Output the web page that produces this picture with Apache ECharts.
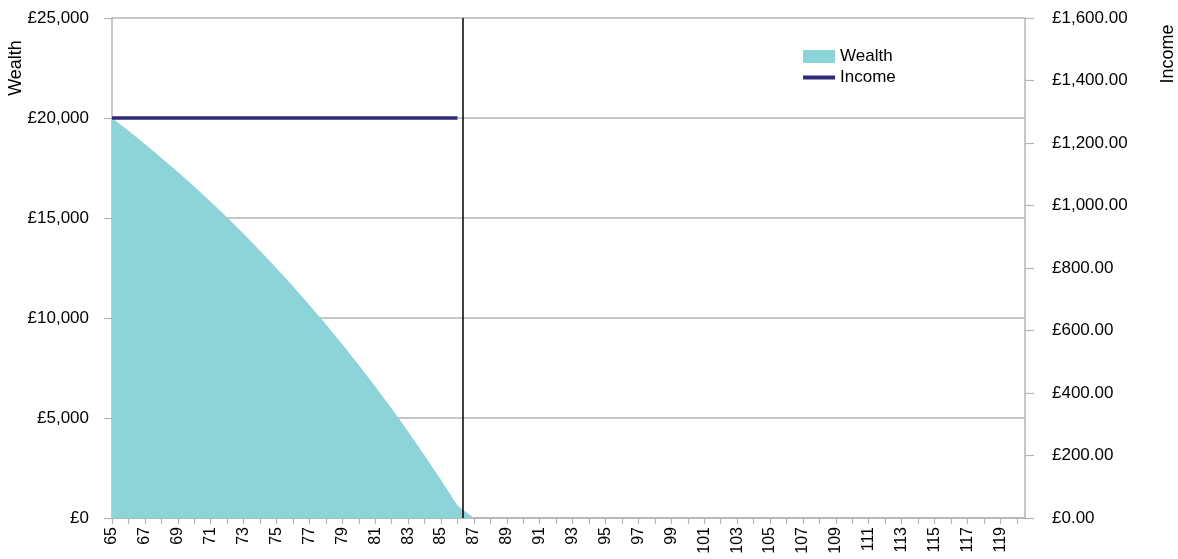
<!DOCTYPE html>
<html>
<head>
<meta charset="utf-8">
<script src="https://cdn.jsdelivr.net/npm/echarts@6/dist/echarts.min.js"></script>
<style>
html,body{margin:0;padding:0;background:#fff;}
#c{width:1178px;height:559px;}
</style>
</head>
<body>
<div id="c"></div>
<script>
// Ages (x categories, 65..120)
var ages = [];
for (var a = 65; a <= 120; a++) ages.push(a);

// Wealth (£), by age 65..120
var wealth = [20000, 19360, 18700, 18010, 17300, 16570, 15810, 15020, 14210, 13360,
  12490, 11590, 10650, 9690, 8690, 7650, 6580, 5470, 4320, 3130,
  1900, 630, 0, 0, 0, 0, 0, 0, 0, 0,
  0, 0, 0, 0, 0, 0, 0, 0, 0, 0,
  0, 0, 0, 0, 0, 0, 0, 0, 0, 0,
  0, 0, 0, 0, 0, 0];

// Income (£) by age 65..86
var incomeAges = [65,66,67,68,69,70,71,72,73,74,75,76,77,78,79,80,81,82,83,84,85,86];
var income = [1280,1280,1280,1280,1280,1280,1280,1280,1280,1280,1280,1280,1280,1280,1280,1280,1280,1280,1280,1280,1280,1280];

// Marker line age
var markerAge = [86.3];

var wealthTicks = [0, 5000, 10000, 15000, 20000, 25000];
var incomeTicks = [0, 200, 400, 600, 800, 1000, 1200, 1400, 1600];

var FONT = 'Liberation Sans, Arial, sans-serif';
var TXT = '#000';
var GRID = '#b4b4b4';

var wealthData = ages.map(function (a, i) { return [a, wealth[i]]; });
var incomeData = incomeAges.map(function (a, i) { return [a, income[i]]; });

var chart = echarts.init(document.getElementById('c'));
chart.setOption({
  animation: false,
  backgroundColor: '#fff',
  textStyle: { fontFamily: FONT },
  grid: { left: 112, right: 153, top: 18, bottom: 41, containLabel: false },
  legend: [
    { left: 803, top: 48, padding: 0, itemWidth: 32, itemHeight: 13, itemGap: 4,
      textStyle: { fontSize: 17, color: TXT, fontFamily: FONT },
      data: [{ name: 'Wealth', icon: 'rect' }] },
    { left: 803, top: 69, padding: 0, itemWidth: 32, itemHeight: 4, itemGap: 4,
      textStyle: { fontSize: 17, color: TXT, fontFamily: FONT },
      data: [{ name: 'Income', icon: 'rect' }] }
  ],
  graphic: [
    { type: 'text', x: 16, y: 68, rotation: Math.PI / 2,
      style: { text: 'Wealth', fontSize: 18, fontFamily: FONT, fill: TXT, textAlign: 'center', textVerticalAlign: 'middle' } },
    { type: 'text', x: 1168, y: 54, rotation: Math.PI / 2,
      style: { text: 'Income', fontSize: 18, fontFamily: FONT, fill: TXT, textAlign: 'center', textVerticalAlign: 'middle' } }
  ],
  xAxis: {
    type: 'value', min: ages[0], max: 120.5, interval: 1,
    axisLine: { show: true, lineStyle: { color: GRID, width: 1.5 } },
    axisTick: { show: true, length: 6, lineStyle: { color: GRID, width: 1.2 } },
    splitLine: { show: false },
    axisLabel: {
      rotate: 90, margin: 9, fontSize: 16, color: TXT, fontFamily: FONT,
      showMaxLabel: false,
      formatter: function (v) { return (Number.isInteger(v) && v % 2 === 1) ? String(v) : ''; }
    }
  },
  yAxis: [
    {
      type: 'value', min: wealthTicks[0], max: wealthTicks[wealthTicks.length - 1], interval: wealthTicks[1] - wealthTicks[0],
      position: 'left',
      axisLine: { show: true, lineStyle: { color: GRID, width: 1.5 } },
      axisTick: { show: true, length: 8, lineStyle: { color: GRID, width: 1.2 } },
      splitLine: { show: true, lineStyle: { color: GRID, width: 1.5 } },
      axisLabel: { margin: 23, fontSize: 17, color: TXT, fontFamily: FONT,
        formatter: function (v) { return '£' + v.toLocaleString('en-GB'); } }
    },
    {
      type: 'value', min: incomeTicks[0], max: incomeTicks[incomeTicks.length - 1], interval: incomeTicks[1] - incomeTicks[0],
      position: 'right',
      axisLine: { show: true, lineStyle: { color: GRID, width: 1.5 } },
      axisTick: { show: true, length: 9, lineStyle: { color: GRID, width: 1.2 } },
      splitLine: { show: false },
      axisLabel: { margin: 27, fontSize: 17, color: TXT, fontFamily: FONT,
        formatter: function (v) { return '£' + v.toLocaleString('en-GB', { minimumFractionDigits: 2, maximumFractionDigits: 2 }); } }
    }
  ],
  series: [
    {
      name: 'Wealth', type: 'line', yAxisIndex: 0, data: wealthData,
      symbol: 'none', showSymbol: false,
      itemStyle: { color: '#8dd4d8' },
      lineStyle: { width: 0, color: '#8dd4d8' },
      areaStyle: { color: '#8dd4d8', opacity: 1 },
      markLine: {
        silent: true, symbol: 'none', label: { show: false },
        lineStyle: { color: '#000', width: 1.5, type: 'solid' },
        data: [{ xAxis: markerAge[0] }]
      },
      z: 2
    },
    {
      name: 'Income', type: 'line', yAxisIndex: 1, data: incomeData,
      symbol: 'none', showSymbol: false,
      itemStyle: { color: '#2e2a78' },
      lineStyle: { width: 3.5, color: '#2e2a78' },
      z: 3
    }
  ]
});
</script>
</body>
</html>
